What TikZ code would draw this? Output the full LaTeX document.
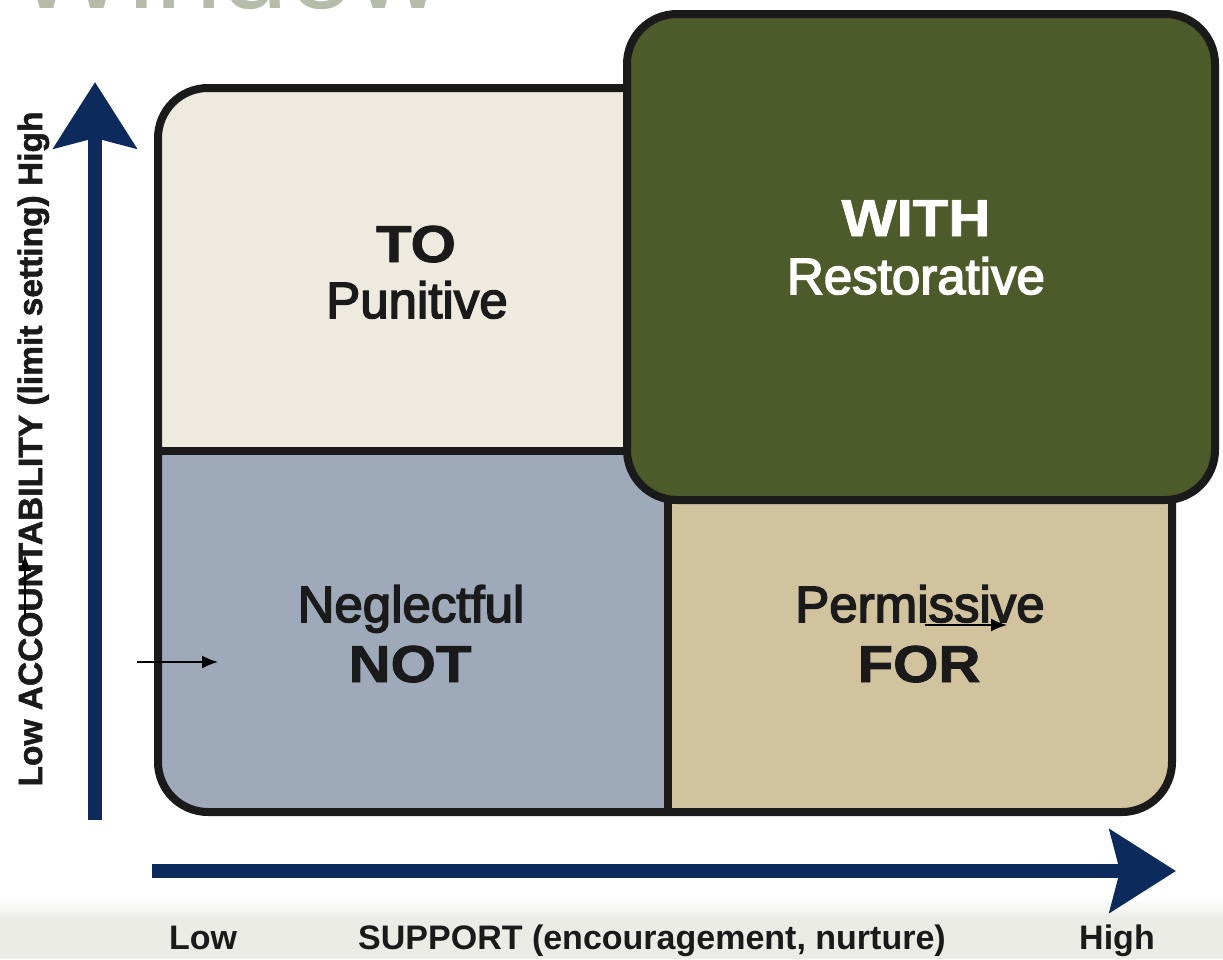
\documentclass[tikz,border=0pt]{standalone}
\usepackage{fontspec}
\setmainfont{Liberation Sans}
\newfontfamily\demifont[FakeBold=3]{Liberation Sans}
\newfontfamily\heavyfont[FakeBold=1.5]{Liberation Sans Bold}
\usetikzlibrary{arrows.meta}
\definecolor{cream}{HTML}{EEEADF}
\definecolor{olive}{HTML}{4D5A29}
\definecolor{slate}{HTML}{9EA9B9}
\definecolor{tan}{HTML}{D0C39D}
\definecolor{navy}{HTML}{0C2A5B}
\definecolor{ink}{HTML}{1A1A1A}
\definecolor{titlegray}{HTML}{B7BBAA}
\definecolor{band}{HTML}{ECECE7}
\begin{document}
\begin{tikzpicture}[x=1pt,y=-1pt,
  grid/.style={draw=ink, line width=8pt},
  capword/.style={anchor=base, inner sep=0pt, font=\heavyfont\fontsize{52}{52}\selectfont, xscale=1.12},
  lowword/.style={anchor=base, inner sep=0pt, font=\demifont\fontsize{51}{51}\selectfont},
  axisarrow/.style={draw=navy, line width=14pt, -{Stealth[length=66pt, width=82pt, inset=10pt]}},
  pointer/.style={draw=black, line width=1.6pt, -{Latex[length=16pt, width=13pt]}},
  axislabel/.style={anchor=base, inner sep=0pt, font=\bfseries\fontsize{34}{34}\selectfont}
]
\useasboundingbox (0,0) rectangle (1223,959);
\clip (0,0) rectangle (1223,959);
\fill[white] (0,0) rectangle (1223,959);
% bottom band
\shade[top color=white, bottom color=band] (0,898) rectangle (1223,918);
\fill[band] (0,918) rectangle (1223,959);
% cut-off title
\node[anchor=base west, inner sep=0pt, text=titlegray, font=\fontsize{120}{120}\selectfont] (title) at (15,8) {Window};
% quadrant fills
\begin{scope}
  \clip (0,0) rectangle (1223,451);
  \fill[cream, rounded corners=50pt] (158,88) rectangle (1172,812);
\end{scope}
\begin{scope}
  \clip (0,451) rectangle (668,959);
  \fill[slate, rounded corners=50pt] (158,88) rectangle (1172,812);
\end{scope}
\begin{scope}
  \clip (668,451) rectangle (1223,959);
  \fill[tan, rounded corners=50pt] (158,88) rectangle (1172,812);
\end{scope}
% grid outline
\draw[grid, rounded corners=50pt] (158,88) rectangle (1172,812);
\draw[grid] (158,451) -- (700,451);
\draw[grid] (668,451) -- (668,812);
% WITH box
\draw[grid, fill=olive, rounded corners=50pt] (627,14) rectangle (1215,500);
% axes
\coordinate (vbot) at (95,820);
\coordinate (vtop) at (95,82);
\coordinate (hleft) at (152,871);
\coordinate (hright) at (1176,871);
\draw[axisarrow] (vbot) -- (vtop);
\draw[axisarrow] (hleft) -- (hright);
% quadrant texts
\node[capword, text=ink] (to) at (416,262) {TO};
\node[lowword, text=ink] (punitive) at (417,318) {Punitive};
\node[capword, text=white] (with) at (916,236) {WITH};
\node[lowword, text=white] (restorative) at (916,294) {Restorative};
\node[lowword, text=ink] (neglectful) at (411,622) {Neglectful};
\node[capword, text=ink] (not) at (410,682) {NOT};
\node[lowword, text=ink] (permissive) at (920,622) {Permissive};
\node[capword, text=ink] (for) at (919,682) {FOR};
% axis labels
\node[rotate=90, anchor=base, inner sep=0pt, font=\heavyfont\fontsize{33.5}{33.5}\selectfont, text=ink] (ylab) at (42,449) {Low ACCOUNTABILITY (limit setting) High};
\node[axislabel, text=ink] (xlow) at (203,949) {Low};
\node[axislabel, text=ink] (xlab) at (652,949) {SUPPORT (encouragement, nurture)};
\node[axislabel, text=ink] (xhigh) at (1117,949) {High};
% small pointer arrows
\coordinate (p1s) at (25,617);
\coordinate (p1e) at (25,555);
\coordinate (p2s) at (137,662);
\coordinate (p2e) at (218,662);
\coordinate (p3s) at (925,625);
\coordinate (p3e) at (1007,625);
\draw[pointer] (p1s) -- (p1e);
\draw[pointer] (p2s) -- (p2e);
\draw[pointer] (p3s) -- (p3e);
\end{tikzpicture}
\end{document}
